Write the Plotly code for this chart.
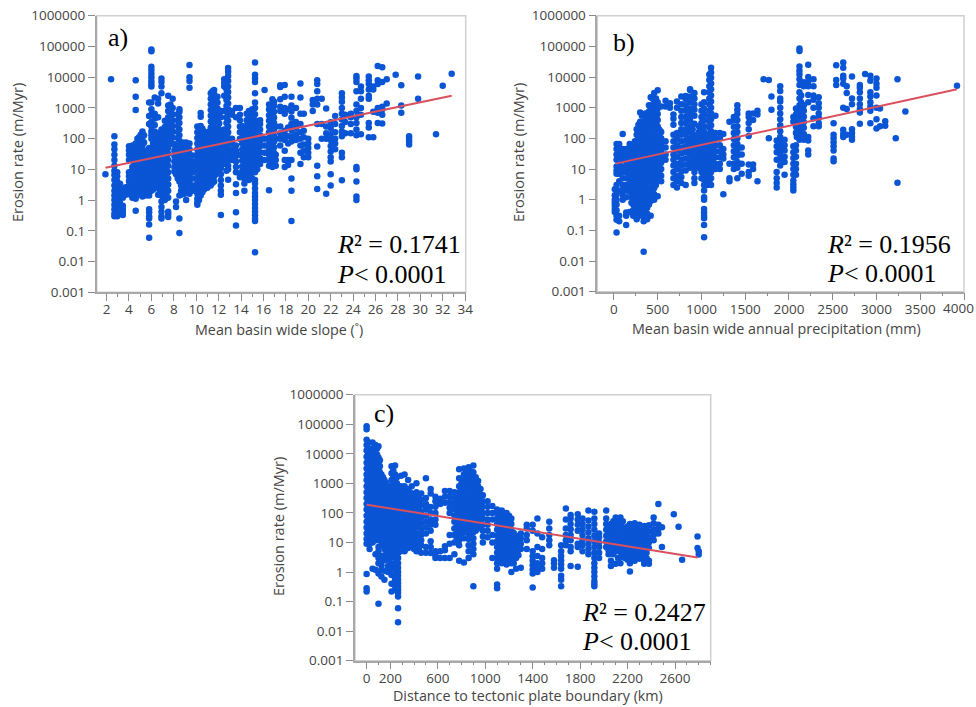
import plotly.graph_objects as go

# a) slope columns: x value, then the erosion rates read off that column
slope_x = [1.9, 2.4, 2.7, 2.95, 3.2, 3.45, 3.7, 4.0, 4.3, 4.6, 4.9, 5.2, 5.5, 5.8, 6.0, 6.3, 6.6, 6.9, 7.2, 7.5, 7.9, 8.2, 8.5, 8.8, 9.1, 9.4, 9.7, 10.1, 10.4, 10.7, 11.0, 11.3, 11.6, 11.9, 12.2, 12.5, 12.85, 13.2, 13.55, 13.9, 14.3, 14.7, 15.0, 15.25, 15.7, 16.1, 16.5, 16.8, 17.1, 17.5, 17.9, 18.2, 18.5, 18.9, 19.3, 19.6, 20.0, 20.4, 20.8, 21.2, 21.6, 22.0, 22.4, 23.0, 23.3, 23.8, 24.3, 24.7, 25.4, 25.8, 26.2, 26.6, 27.0, 27.8, 28.3, 29.0, 29.8, 31.4, 32.0, 32.8]
slope_y = [
    [7], [8500],
    [0.3, 0.36, 0.5, 0.7, 1, 1.4, 2, 3, 4.5, 6.5, 9, 13, 20, 30, 45, 65, 120],
    [0.3, 0.42, 0.6, 0.9, 1.3, 2, 3, 4, 6, 8],
    [0.8, 1.2, 1.7, 2.4, 3.4], [0.33, 0.42, 0.52, 0.65, 1.2, 1.6, 2.2], [1.5, 2, 2.6],
    [2, 3, 4.2, 6, 8, 20, 30, 42, 56],
    [1.2, 2, 3, 4.5, 6.3, 9, 12, 20, 30, 42, 60],
    [0.45, 1.1, 1.5, 2, 3, 5, 8, 15, 25, 35, 55, 70, 850, 2300, 8000],
    [1.5, 2.5, 4, 6, 9, 13, 20, 35, 50, 80, 110],
    [1.3, 2, 3, 5, 7, 10, 15, 30, 60, 100, 170],
    [1.4, 2.4, 3.5, 5.5, 8, 12, 22, 40],
    [0.06, 0.16, 0.25, 0.3, 0.4, 0.5, 1.4, 1.8, 2.4, 3, 4, 20, 30, 50, 300, 550, 1500],
    [2, 2.5, 3.2, 5, 8, 12, 18, 25, 35, 50, 100, 130, 170, 250, 350, 600, 900, 1500, 5000, 6000, 7500, 10000, 13000, 17000, 22000, 70000, 80000],
    [2.5, 4, 6, 9, 13, 20, 30, 45, 70, 110, 170, 280, 450, 650, 2200],
    [1.5, 2.5, 4, 6, 9, 14, 22, 35, 55, 90, 150, 500, 1400, 2000],
    [0.25, 0.3, 0.42, 0.6, 0.9, 1.4, 2.2, 3.5, 5.5, 8.5, 13, 20, 32, 50, 80, 130, 200, 3000, 5000, 7000, 9000],
    [1, 1.5, 2.4, 3.8, 6, 9.5, 15, 24, 38, 60, 95, 150, 240, 380],
    [0.28, 0.35, 0.42, 1.2, 2, 3.2, 5, 8, 13, 20, 32, 50, 80, 130, 200, 320, 500, 800, 1200, 2500],
    [70, 110, 170, 260, 400, 620, 1000, 2000],
    [0.6, 0.9, 7, 10, 15, 22, 33, 50],
    [0.085, 0.25, 1.4, 4, 6, 9, 14, 22, 35, 55, 85, 130, 200, 320, 500, 750, 900],
    [2.5, 3.8, 5.8, 9, 14, 22, 35, 55, 75],
    [1, 1.9, 2.9, 4.4, 6.7, 10, 16, 24, 36, 55, 75],
    [1.6, 2.4, 3.6, 5.5, 8.5, 13, 20, 30, 45, 70, 4500, 7500, 10000, 25000],
    [2, 3, 5, 8, 12, 18, 28],
    [0.7, 0.85, 1.1, 1.6, 2.4, 3.6, 5.5, 8.5, 13, 20, 30, 45, 70, 105, 160, 250],
    [1.4, 2.2, 3.4, 5.2, 8, 12, 19, 29, 45, 70, 110, 170, 260, 520, 680],
    [2.2, 3.4, 5.2, 8, 12, 19, 29, 45, 70, 110, 170],
    [2.5, 4, 6, 9.5, 15, 23, 36, 56, 85, 130],
    [3, 4.5, 7, 11, 17, 26, 40, 62, 95, 150, 230, 360, 560, 860, 1300, 2000, 3000],
    [4, 6, 9.5, 15, 23, 36, 56, 85, 130, 200, 310, 480, 750, 1150, 1800, 2800, 3800],
    [8, 12, 19, 29, 45, 70, 110, 170, 260, 400, 620, 950, 1500, 2300],
    [0.33, 1.5, 2, 3, 4.5, 7, 11, 17, 27, 42, 65, 100, 500, 800],
    [15, 23, 36, 56, 85, 130, 200, 800, 2500, 5000, 6500, 8500],
    [4.6, 10, 13, 20, 30, 45, 70, 105, 160, 250, 380, 600, 900, 1400, 2200, 3300, 5000, 7500, 11000, 15000, 20000],
    [20, 30, 45, 70, 100, 600, 800],
    [0.15, 0.4, 1.7, 3.3, 8, 12, 18, 27, 40, 60, 500, 1000],
    [5.5, 7, 30, 100, 160, 250, 400, 600, 1000],
    [2, 3.5, 5, 7, 10, 15, 23, 35, 55, 85, 130, 200],
    [4.5, 7, 10, 15, 23, 35, 55, 85, 130, 200, 320, 500, 800],
    [5, 8, 12, 18, 28, 42, 65, 100, 160, 250, 400, 620, 900],
    [0.02, 0.21, 0.25, 0.32, 0.42, 0.55, 0.75, 1, 1.3, 1.7, 2.4, 3.5, 4.5, 8, 12, 18, 28, 42, 65, 100, 160, 250, 400, 620, 1000, 1500, 3000, 7000, 9000, 12000, 30000],
    [15, 23, 36, 56, 85, 130, 200, 300, 400],
    [20, 35, 60, 100, 3800],
    [2.1, 13, 20, 30, 45, 70, 105, 160, 250, 380, 580, 880, 1300],
    [12, 18, 28, 42, 65, 100, 160, 250, 400, 620, 950, 1400, 1900],
    [13, 20, 30, 100, 250],
    [60, 100, 150, 250, 800, 1100, 1900, 4800, 5500],
    [12, 20, 40, 90, 130, 180, 650, 1000, 2300, 5600],
    [14, 20, 70, 120, 230, 900],
    [0.21, 2, 5, 20, 80, 120, 190, 300, 480, 760, 1200, 2300],
    [90, 140, 220, 350, 1000],
    [6200, 2200, 650, 300, 160, 100, 60, 35, 15],
    [25, 40, 65, 110, 180, 650],
    [25, 35, 50, 70, 100],
    [800, 1300, 1800],
    [2.3, 6, 13, 55, 300, 1300, 2000, 3500, 6000, 8000],
    [100, 300, 2000],
    [1.6, 100, 150, 250, 950],
    [3, 7, 18, 25, 38, 58, 90, 140, 220, 340],
    [45, 70, 100, 160, 300, 550],
    [4.4, 25, 35, 120, 170, 260, 420, 650, 1000, 1600, 2200, 3000],
    [150, 350, 600],
    [150, 300, 500, 650],
    [1, 1.3, 4, 10, 12, 130, 200, 320, 500, 800, 1300, 3500, 7000, 9000, 11000],
    [140, 600, 1000, 2000, 3500, 5000],
    [110, 230, 320, 2000, 2500, 4000, 6000, 8000, 10500],
    [110, 750, 4000, 5000],
    [320, 700, 1000, 6000, 8000, 23000],
    [310, 600, 900, 1100, 7000, 21000],
    [8500, 1400],
    [12000],
    [5500, 1200, 700],
    [65, 80, 100, 120],
    [2000, 10500],
    [140], [5300], [13000],
]
# points in the solid parts of panel a, between the columns above
slope_fill_x = [2.85, 4.15, 4.45, 4.75, 5.05, 5.35, 5.65, 6.15, 6.45, 6.75, 7.05, 7.35, 7.7, 8.05, 8.35, 8.65, 8.95, 9.25, 10.25, 10.55, 10.85, 11.15, 11.45, 11.75, 12.05, 12.35, 12.7, 14.1, 14.5, 14.85, 15.1, 15.45, 16.65, 16.95]
slope_fill_y = [
    [1.1, 1.6, 2.5, 3.6, 5.2],
    [1.5, 2.4, 3.6, 5, 7],
    [1.5, 2.4, 3.6, 5.2, 7.5, 11, 16, 25],
    [1.7, 2.5, 4, 6.5, 10, 18, 28, 42, 100],
    [1.9, 3.2, 5, 7.5, 11, 16, 26, 42, 65, 135],
    [1.6, 2.5, 4, 6, 8.5, 12.5, 18, 40, 75, 130],
    [1.8, 3, 4.5, 6.5, 10, 15, 30],
    [2.2, 3.2, 4.5, 6.5, 10, 15, 22, 30, 42, 70],
    [3.2, 5, 7.5, 11, 16, 25, 38, 57, 85],
    [1.8, 3, 4.8, 7.5, 11, 18, 28, 44, 70, 110],
    [1.2, 1.9, 3, 4.8, 7.5, 11, 18, 28, 44, 70, 110, 170],
    [1.5, 2.5, 4, 6.3, 10, 16, 25, 40, 63, 100, 160, 250],
    [85, 135, 210, 320, 500, 800, 1300],
    [8.5, 12, 18, 27, 40, 62],
    [5, 7.5, 11, 17, 27, 43, 68, 105, 165, 260, 400, 620],
    [1.5, 2, 3, 4.7, 7.2, 11, 17, 27, 44, 65],
    [1.6, 2.3, 3.5, 5.3, 8, 12, 19, 29, 44, 65],
    [1.7, 2, 3, 4.5, 7, 11, 16, 25, 37, 57],
    [1, 1.3, 1.9, 3, 4.5, 6.8, 10.5, 16, 25, 38, 58, 88, 130, 200],
    [1.8, 2.8, 4.3, 6.5, 10, 15, 24, 37, 57, 88, 140, 215],
    [2.8, 4.3, 6.5, 10, 15, 24, 37, 57, 88, 140],
    [3.2, 5, 7.5, 12, 19, 29, 45, 70, 105, 170],
    [3.6, 5.5, 8.5, 13.5, 21, 32, 50, 77, 120, 185, 285, 440, 680, 1050, 1600, 2500, 3500],
    [7, 10.5, 16, 25, 38, 60, 95, 145, 225, 350, 540, 840, 1300, 2000],
    [9, 14, 22, 34, 52, 82, 125, 200, 310, 620],
    [18, 28, 44, 68, 105, 165],
    [9, 16, 25, 36, 55, 85, 130, 200, 320, 480, 750, 1150, 1800, 2700, 4000],
    [6, 8.5, 12.5, 19, 29, 44, 68, 105, 165, 260],
    [5.5, 8.5, 12.5, 19, 29, 44, 68, 105, 165, 260, 400, 650],
    [6, 10, 15, 23, 35, 52, 80, 125, 200, 320, 500, 750],
    [10, 15, 23, 35, 52, 80, 125, 200, 320],
    [10, 18, 28, 45, 70, 110, 170, 260],
    [16, 25, 38, 57, 85, 130, 200, 320, 490, 750, 1150],
    [15, 23, 34, 52, 80, 125, 200, 320, 490, 750, 1150, 1600],
]
slope_fit_x = [1.9, 32.8]
slope_fit_y = [11.2, 2500]

# b) precipitation columns
precip_x = [10, 30, 60, 100, 140, 180, 220, 260, 300, 340, 380, 420, 460, 500, 540, 590, 640, 680, 720, 770, 820, 870, 920, 970, 1030, 1070, 1110, 1160, 1210, 1250, 1320, 1370, 1410, 1460, 1540, 1590, 1640, 1710, 1770, 1800, 1860, 1900, 1950, 2050, 2080, 2120, 2170, 2220, 2280, 2340, 2510, 2540, 2620, 2660, 2720, 2810, 2870, 2930, 3000, 3040, 3100, 3220, 3240, 3330, 3920]
precip_y = [
    [0.4, 0.5, 0.65, 0.8, 1, 1.4, 2.2],
    [0.085, 0.22, 0.3, 0.45, 0.7, 1, 1.5, 3, 7, 9, 12, 20, 30, 45, 65],
    [0.2, 0.3, 2, 4, 7, 10, 15, 25, 40, 65],
    [1, 1.4, 2, 3, 5, 8, 12, 20, 30, 45, 140],
    [0.15, 0.3, 0.38, 1.2, 2, 3, 5, 8, 12, 18, 28, 45],
    [0.4, 1.8, 2.8, 4.5, 7, 11, 17, 26, 40, 65],
    [0.3, 0.45, 0.7, 1, 1.5, 2.4, 3.8, 6, 9.5, 15, 24, 38, 60],
    [0.23, 0.35, 0.55, 0.85, 1.3, 2, 3.2, 5, 8, 13, 20, 32, 50, 80, 130, 200],
    [0.4, 0.65, 1, 1.6, 2.5, 4, 6.3, 10, 16, 25, 40, 63, 100, 160, 250, 350, 700],
    [0.02, 0.2, 0.3, 0.5, 0.8, 1.3, 2, 3.2, 5, 8, 13, 20, 32, 50, 80, 130, 200],
    [0.23, 0.35, 0.55, 0.85, 1.3, 2, 3.2, 5, 8, 13, 20, 32, 50, 80, 130, 200, 320, 500],
    [0.3, 0.9, 1.5, 2.4, 3.8, 6, 9.5, 15, 24, 38, 60, 95, 150, 240, 380, 600, 950, 2200],
    [1, 1.5, 2.4, 3.8, 6, 9.5, 15, 24, 38, 60, 95, 150, 240, 380, 600, 950, 1500, 3000],
    [1.3, 4.5, 7, 11, 17, 27, 42, 65, 100, 160, 250, 400, 620, 950, 1500, 3700],
    [4, 6, 10, 16, 25, 40, 65, 100, 160, 1100],
    [20, 30, 50, 80, 1100, 1700],
    [1000, 1400],
    [3, 5, 8, 13, 20, 30, 50, 80, 130, 280, 440, 600],
    [2.5, 4, 6, 10, 15, 25, 40, 60, 95, 150, 1000, 1600],
    [3.5, 5.5, 8.5, 13, 20, 32, 50, 80, 130, 200, 320, 500, 800, 1300, 2300],
    [3, 9, 14, 22, 35, 55, 85, 130, 200, 320, 500, 800, 1200, 1900, 2400],
    [11, 17, 27, 42, 65, 100, 160, 250, 400, 620, 950, 1500, 2300, 3800, 4000],
    [3.5, 5, 8, 12, 19, 30, 46, 72, 110, 300, 550, 850, 1300, 2000, 3000],
    [11, 17, 27, 42, 65, 100, 160, 250],
    [0.06, 0.15, 0.25, 0.3, 0.38, 0.5, 1, 1.2, 2, 3, 4.5, 7, 11, 17, 27, 42, 65, 100, 160, 250, 400, 620, 950, 1500, 3200],
    [3, 5, 8, 12, 19, 30, 46, 72, 110],
    [3, 5, 8, 12, 19, 30, 46, 72, 110, 170, 270, 420, 650, 1000, 1600, 2500, 4000, 6200, 9500, 14000, 20000],
    [10, 15, 24, 38, 60, 95, 150, 550],
    [10, 15, 24, 38, 60, 100, 150],
    [1.5, 22, 30, 45, 140],
    [4, 5, 15, 350],
    [10, 15, 24, 38, 60, 95, 150, 240, 380, 500],
    [5, 11, 17, 27, 42, 65, 100, 160, 250, 400, 620, 850, 1200],
    [7, 15, 30, 50],
    [6, 8, 14, 120, 200, 320, 500, 650],
    [10, 14, 400, 650],
    [4, 600, 800],
    [8500],
    [8000, 100],
    [2300, 850],
    [2.5, 3.5, 5, 8, 20, 35, 55, 85],
    [13, 20, 30, 45, 70, 110, 170, 270, 420, 650, 1000, 1600, 2000, 3500, 5000],
    [6.5, 17, 25, 40, 60, 90],
    [2, 2.5, 3.2, 4.2, 6.5, 10, 15, 23, 35, 55, 350, 500],
    [6.5, 10, 15, 25, 40, 60, 150, 240, 380, 600, 950],
    [90, 140, 220, 340, 520, 800, 1200, 2000, 3200, 5500, 8500, 12000, 16000, 22000, 70000, 85000],
    [90, 140, 220, 340, 520, 800, 1200, 5000, 6800],
    [30, 40, 85, 110, 1500, 2600, 5000, 7000, 10000, 25000],
    [250, 450, 1000, 1800, 2500, 5000, 8500],
    [250, 320, 480, 650, 1000, 1400, 2200],
    [18, 22, 40, 55, 75, 100, 130, 310],
    [5500, 8000, 24000],
    [110, 140, 190, 1000, 6000, 9000, 11000, 20000, 30000],
    [130, 900, 3000, 5000],
    [90, 110, 150, 200, 1300, 2000, 10500],
    [300, 700, 900, 1300, 2000, 3200, 4500, 5500],
    [12500],
    [310, 800, 1100, 1500, 2300, 3200, 11000, 7500],
    [210, 420, 1000, 2500, 4500, 6000, 9000],
    [250, 950],
    [260, 360],
    [100],
    [3.6, 8500],
    [750],
    [5200],
]
precip_fill_x = [200, 240, 280, 320, 360, 400, 440, 480, 520, 1000, 1050, 1090, 1130, 900, 950, 2140, 2090]
precip_fill_y = [
    [0.8, 1.2, 2.2, 3.6, 5.8, 9, 14, 22, 34, 52],
    [0.55, 0.85, 1.3, 2, 3.2, 5, 8, 13, 20, 32, 50, 80],
    [0.3, 0.45, 0.7, 1.1, 1.8, 2.8, 4.5, 7, 11, 18, 28, 45, 70, 110, 170, 280],
    [0.3, 0.5, 0.8, 1.3, 2, 3.2, 5, 8, 13, 20, 32, 50, 80, 130, 200, 320, 550],
    [0.3, 0.42, 0.65, 1, 1.6, 2.5, 4, 6.5, 10, 16, 25, 40, 65, 100, 160, 250, 400, 650],
    [0.7, 1.2, 1.9, 3, 4.8, 7.5, 12, 19, 30, 48, 75, 120, 190, 300, 480, 750, 1200],
    [1.2, 1.9, 3, 4.8, 7.5, 12, 19, 30, 48, 75, 120, 190, 300, 480, 750, 1200, 2000],
    [3, 5.5, 8.5, 13, 21, 33, 52, 82, 130, 200, 320, 500, 800, 1200, 2000],
    [5, 8, 12, 19, 30, 48, 75, 120, 190],
    [5, 8, 13, 21, 33, 52, 82, 130, 200, 320, 500, 800, 1300],
    [4, 6.5, 10, 16, 25, 38, 58, 90, 130],
    [4, 6.5, 10, 16, 25, 38, 58, 90, 140, 220, 340, 520, 800, 1300, 2000, 3200, 5000, 8000, 12000],
    [12, 19, 30, 48, 75, 120],
    [14, 21, 33, 52, 82, 130, 200],
    [14, 21, 33, 52, 82, 130],
    [110, 170, 270, 420, 650, 1000, 1500, 2500],
    [110, 170, 270, 420, 650],
]
precip_fit_x = [20, 3920]
precip_fit_y = [15, 4000]

# c) distance columns
dist_x = [0, 25, 50, 75, 100, 125, 150, 180, 210, 240, 265, 290, 320, 350, 380, 420, 460, 500, 540, 580, 620, 660, 700, 740, 780, 820, 860, 900, 940, 980, 1020, 1060, 1100, 1140, 1180, 1220, 1260, 1300, 1350, 1400, 1440, 1480, 1540, 1580, 1640, 1680, 1720, 1780, 1820, 1870, 1920, 1960, 2020, 2060, 2100, 2140, 2180, 2220, 2260, 2300, 2340, 2380, 2420, 2460, 2490, 2590, 2630, 2660, 2790, 2800]
dist_y = [
    [0.22, 0.28, 0.85, 9, 13, 20, 32, 50, 80, 130, 200, 320, 500, 800, 1300, 2000, 3200, 5000, 8000, 13000, 20000, 30000, 68000, 85000],
    [6, 9, 14, 22, 35, 55, 85, 130, 200, 320, 500, 800, 1300, 2000, 3200, 5000, 8000, 13000],
    [1.3, 10, 16, 25, 40, 63, 100, 160, 250, 400, 630, 1000, 1600, 2500, 4000, 6300, 10000, 24000],
    [1.2, 4, 12, 19, 30, 47, 75, 120, 190, 300, 470, 750, 1200, 1900, 3000, 4700, 7500, 12000, 20000],
    [0.085, 0.9, 2, 3, 5, 7, 12, 19, 30, 47, 75, 120, 190, 300, 470, 750, 1200, 1900, 3000, 4700, 7500, 18000],
    [0.7, 1.2, 1.7, 2.4, 3.4, 8, 13, 20, 32, 50, 80, 130, 200, 320, 500, 800, 1300, 2000],
    [0.55, 1.1, 2.5, 3.7, 6, 9, 14, 22, 35, 55, 85, 130, 200, 320, 500, 800, 1300],
    [1, 1.6, 2.6, 4, 6, 9, 14, 22, 35, 55, 85, 130, 200, 320, 500, 800],
    [0.22, 0.4, 0.8, 1.3, 2, 3.2, 5, 8, 13, 20, 32, 50, 80, 130, 200, 320, 500, 800, 1300, 2200, 3800],
    [0.25, 0.35, 0.55, 0.85, 1.3, 2, 3.2, 5, 8, 13, 20, 32, 50, 80, 130, 200, 320, 500, 800, 1300, 2000, 4000],
    [0.02, 0.06, 0.15, 0.2, 0.25, 0.32, 0.42, 0.55, 0.75, 1, 1.4, 2, 3, 4.5, 8, 13, 20, 32, 50, 80, 130, 200],
    [5, 8, 13, 20, 32, 50, 80, 130, 200, 320, 500, 800, 1800],
    [5, 8, 13, 20, 32, 50, 80, 130, 200, 320, 500, 800, 2000],
    [6.5, 10, 16, 25, 40, 63, 100, 160, 250, 400, 630, 1300],
    [7, 11, 18, 28, 45, 70, 110, 180, 280, 450, 800],
    [5, 8, 13, 20, 32, 50, 80, 130, 200, 320, 500, 1000],
    [4.5, 8, 12, 18, 28, 45, 70, 110, 180, 280, 450],
    [4.5, 7, 20, 32, 50, 80, 130, 200, 320, 1500],
    [4.4, 7, 11, 25, 40, 60, 100, 160, 450, 650],
    [3, 3.8, 5, 40, 60, 100, 160, 250, 350],
    [3, 5, 200, 300],
    [3, 5.5, 7.5, 220, 350, 550],
    [3, 9, 18, 100, 150, 230, 350, 550],
    [4, 10, 18, 30, 50, 80, 130, 200, 320, 500],
    [2.4, 8, 12, 20, 32, 50, 80, 130, 200, 320, 500, 800, 1500, 3000],
    [2.1, 14, 22, 35, 55, 85, 130, 200, 320, 500, 800, 1300, 2000, 3200],
    [3, 5, 8, 13, 20, 32, 50, 80, 130, 200, 320, 500, 800, 1300, 2000, 3500],
    [0.33, 4, 6, 9, 14, 22, 35, 55, 85, 130, 200, 320, 500, 800, 1300, 2400, 4000],
    [30, 50, 80, 130, 200, 320, 500, 800, 1200],
    [10, 16, 25, 40, 63, 100, 160, 250, 400],
    [15, 25, 40, 60, 100, 160, 250],
    [3, 10, 18, 60, 100, 170],
    [0.28, 0.38, 1.3, 2, 3, 4.5, 7, 11, 17, 27, 42, 65, 100, 130],
    [2, 3, 4.5, 7, 11, 17, 27, 42, 65, 120],
    [1.8, 3, 4.5, 7, 11, 17, 27, 42, 65, 100],
    [1, 2, 3, 4.5, 7, 11, 17, 27, 42, 65],
    [1.3, 3, 4.5, 7, 11, 17],
    [1.4, 6, 9, 14, 20],
    [6, 12, 18, 30, 40],
    [0.3, 0.9, 1.2, 1.7, 2.4, 3.4, 5, 25, 40],
    [1, 1.3, 2, 3.5, 7, 20, 65],
    [1.3, 2, 3, 6, 15],
    [8, 12, 18, 30, 50],
    [1.4, 2, 2.5],
    [0.33, 0.55, 0.75, 1.3, 1.8, 2.5, 3.5, 5, 8],
    [8, 12, 18, 30, 60, 140],
    [1.6, 5, 7, 12, 18, 28, 42, 65, 85],
    [1.5, 7, 9, 25, 40, 60, 90],
    [5, 8, 12, 18, 28, 42, 65],
    [4, 6, 9, 14, 22, 35, 55, 120],
    [0.33, 0.4, 0.5, 0.7, 1, 1.4, 2, 3, 4.5, 7, 11, 17, 27, 42, 65, 110],
    [3, 4.5, 7, 10, 15, 20],
    [7, 11, 17, 27, 42, 65, 120],
    [1.6, 2.4, 7, 11, 17, 27, 42],
    [1.9, 5, 8, 12, 18, 28, 42, 70],
    [2, 3.2, 5, 8, 12, 18, 28, 42, 70],
    [3, 5, 8, 12, 18, 28],
    [1.05, 2, 3.2, 5, 8, 12, 18, 28, 42],
    [2.4, 3.6, 5.5, 8.5, 13, 20, 30, 45],
    [2.8, 4.5, 7, 11, 17, 26, 40],
    [1.9, 2.4, 4, 6, 9.5, 15, 23, 36],
    [1.9, 2.4, 6.5, 10, 15, 24, 38],
    [12, 18, 28, 45, 70],
    [20, 30, 40, 200],
    [7, 33],
    [90], [34], [2.6], [6.5, 16],
    [3.9, 5],
]
dist_fill_x = [12, 38, 62, 88, 112, 138, 165, 195, 225, 255, 305, 335, 365, 400, 440, 760, 800, 840, 880, 920, 960, 1120, 1160, 1200, 1240, 1280, 2040, 2080, 2120, 2160, 2200, 2240, 2280, 2320, 2360]
dist_fill_y = [
    [11, 16, 25, 40, 63, 100, 160, 250, 400, 630, 1000, 1600, 2500, 4000, 6300, 10000, 16000, 25000],
    [11, 18, 28, 45, 70, 110, 170, 270, 430, 680, 1100, 1700, 2700, 4300, 6800, 10000],
    [12, 20, 32, 50, 80, 130, 200, 320, 500, 800, 1300, 2000, 3200, 5000, 8000, 16000],
    [15, 24, 38, 60, 95, 150, 240, 380, 600, 950, 1500, 2400, 3800, 6000, 9500, 15000],
    [15, 24, 38, 60, 95, 150, 240, 380, 600, 950, 1500, 2400, 3800, 6000],
    [10, 16, 25, 40, 63, 100, 160, 250, 400, 630, 1000, 1600],
    [7, 11, 18, 28, 45, 70, 110, 170, 270, 430, 680, 1050],
    [5, 7, 11, 18, 28, 45, 70, 110, 170, 270, 430, 650],
    [4, 6.5, 10, 16, 25, 40, 63, 100, 160, 250, 400, 650, 1000, 1600, 2800],
    [2.5, 4, 6.5, 10, 16, 25, 40, 63, 100, 160, 250, 400, 650, 1000, 1600],
    [6.5, 10, 16, 25, 40, 63, 100, 160, 250, 400, 650],
    [6.5, 10, 16, 25, 40, 63, 100, 160, 250, 400, 650],
    [8, 13, 20, 32, 50, 80, 130, 200, 320, 500],
    [6, 9, 14, 22, 35, 55, 85, 130, 200, 320],
    [6, 9, 14, 35, 55, 85, 130, 200, 320],
    [14, 22, 35, 55, 85, 130, 200, 320],
    [18, 28, 40, 65, 105, 165, 260, 410, 650, 1000],
    [25, 40, 65, 105, 165, 260, 410, 650, 1000, 1600, 2500],
    [15, 25, 40, 65, 105, 165, 260, 410, 650, 1000, 1600, 2500],
    [25, 40, 65, 105, 165, 260, 410, 650, 1000, 1600],
    [40, 65, 105, 165, 260, 410, 650],
    [2.5, 3.7, 5.6, 8.7, 14, 21, 33, 52, 80],
    [2.5, 3.7, 5.6, 8.7, 14, 21, 33, 52, 80],
    [2.2, 3.7, 5.6, 8.7, 14, 21, 33, 52, 80],
    [2, 3.7, 5.6, 8.7, 14, 21],
    [3.7, 5.6, 8.7, 14],
    [4, 5.5, 8.7, 13, 21, 33],
    [4, 5.5, 8.7, 14, 21, 33, 52],
    [3, 5.5, 8.7, 14, 21, 33, 52],
    [3.2, 5.5, 8.7, 14, 21, 33, 52],
    [2.6, 4, 6.5, 10, 15, 23, 35],
    [2.6, 4, 6.5, 10, 15, 23, 35],
    [3.5, 5.5, 8.7, 14, 21, 33],
    [3.5, 5.5, 8.7, 14, 21, 33],
    [3, 4.5, 6.5, 10, 15, 23, 35],
]
dist_fit_x = [0, 2790]
dist_fit_y = [190, 3.1]

# pixel boxes of the three plots: left, right, top, bottom
boxes = [(96.7, 465.7, 15.7, 292.3), (597.3, 964, 15.7, 291.7), (355, 710.7, 394.7, 660.7)]
x_ranges = [[1.12, 34.05], [-190, 4000], [-98, 2901]]
x_titles = ['Mean basin wide slope (˚)', 'Mean basin wide annual precipitation (mm)', 'Distance to tectonic plate boundary (km)']
x_title_pos = [(279, 329), (776, 328), (528, 695)]
y_title_pos = [(17, 153), (518, 153), (278, 527)]
letters = ['a)', 'b)', 'c)']
letter_pos = [(106, 38), (611, 43), (372, 413)]
r2_texts = ['0.1741', '0.1956', '0.2427']
stat_pos = [(335, 245, 274), (825, 245, 273), (580, 612, 641)]
y_ticks = [0.001, 0.01, 0.1, 1, 10, 100, 1000, 10000, 100000, 1000000]
y_labels = ['0.001', '0.01', '0.1', '1', '10', '100', '1000', '10000', '100000', '1000000']
precip_ticks = [0, 500, 1000, 1500, 2000, 2500, 3000, 3500, 4000]
precip_labels = ['0', '500', '1000', '1500', '2000', '2500', '3000', '3500', '']

blue = '#0a55d5'
red = '#d9505f'
grey = '#444444'
axis_grey = '#a8a8a8'
W = 976
H = 707


def px_x(v):
    return v / W


def px_y(v):
    return 1 - v / H


def note(text, px, py, size, family, anchor='left', angle=0, color='black'):
    fig.add_annotation(text=text, xref='paper', yref='paper', x=px_x(px), y=px_y(py), showarrow=False, xanchor=anchor, yanchor='middle',
                       textangle=angle, font=dict(family=family, size=size, color=color))


fig = go.Figure()
panels = [(slope_x, slope_y, slope_fill_x, slope_fill_y, slope_fit_x, slope_fit_y),
          (precip_x, precip_y, precip_fill_x, precip_fill_y, precip_fit_x, precip_fit_y),
          (dist_x, dist_y, dist_fill_x, dist_fill_y, dist_fit_x, dist_fit_y)]
for i, (cols, rates, fill_cols, fill_rates, fit_x, fit_y) in enumerate(panels):
    xs = []
    ys = []
    for c, r in zip(cols + fill_cols, rates + fill_rates):
        xs += [c] * len(r)
        ys += r
    ax = '' if i == 0 else str(i + 1)
    fig.add_trace(go.Scatter(x=xs, y=ys, mode='markers', marker=dict(color=blue, size=6.5), xaxis='x' + ax, yaxis='y' + ax, showlegend=False))
    fig.add_trace(go.Scatter(x=fit_x, y=fit_y, mode='lines', line=dict(color=red, width=2), xaxis='x' + ax, yaxis='y' + ax, showlegend=False))

    l, r_, t, b = boxes[i]
    # lighter frame behind the two darker axis lines
    fig.add_shape(type='rect', xref='paper', yref='paper', x0=px_x(l), x1=px_x(r_), y0=px_y(b), y1=px_y(t), line=dict(color='#cfcfcf', width=1.5), layer='below')
    x_axis = dict(domain=[px_x(l), px_x(r_)], range=x_ranges[i], anchor='y' + ax, showgrid=False, zeroline=False, automargin=False,
                  showline=True, linecolor=axis_grey, linewidth=1.5, ticks='outside', ticklen=7, tickcolor='#8a8a8a',
                  ticklabeloverflow='allow', ticklabelstandoff=-3, tickfont=dict(family='Open Sans', size=13.5, color=grey))
    y_axis = dict(domain=[px_y(b), px_y(t)], type='log', range=[-3, 6], anchor='x' + ax, showgrid=False, zeroline=False, automargin=False,
                  showline=True, linecolor=axis_grey, linewidth=1.5, ticks='outside', ticklen=7, tickcolor='#8a8a8a',
                  ticklabeloverflow='allow', tickvals=y_ticks, ticktext=y_labels, tickfont=dict(family='Open Sans', size=13.5, color=grey))
    if i == 0:
        x_axis.update(tick0=2, dtick=2, minor=dict(dtick=1, ticks='outside', ticklen=3, tickcolor='#8a8a8a'))
    elif i == 1:
        x_axis.update(tickvals=precip_ticks, ticktext=precip_labels, minor=dict(tick0=0, dtick=250, ticks='outside', ticklen=3, tickcolor='#8a8a8a'))
    else:
        x_axis.update(tickvals=[0, 200, 600, 1000, 1400, 1800, 2200, 2600], ticktext=['0', '200', '600', '1000', '1400', '1800', '2200', '2600'],
                      minor=dict(tick0=0, dtick=100, ticks='outside', ticklen=3, tickcolor='#8a8a8a'))
    fig.update_layout({'xaxis' + ax: x_axis, 'yaxis' + ax: y_axis})

    # axis titles, panel letter and the fit statistics
    note(x_titles[i], x_title_pos[i][0], x_title_pos[i][1], 14.3, 'Open Sans', anchor='center', color=grey)
    note('Erosion rate (m/Myr)', y_title_pos[i][0], y_title_pos[i][1], 14.5, 'Open Sans', anchor='center', angle=-90, color=grey)
    note(letters[i], letter_pos[i][0], letter_pos[i][1], 26, 'Liberation Serif')
    note('<i>R</i>² = ' + r2_texts[i], stat_pos[i][0], stat_pos[i][1], 26, 'Liberation Serif')
    note('<i>P</i>&lt; 0.0001', stat_pos[i][0], stat_pos[i][2], 26, 'Liberation Serif')

# the last label of panel b sits left of its tick so that it stays on the page
note('4000', 958, 308, 13.5, 'Open Sans', anchor='center', color=grey)

fig.update_layout(width=W, height=H, margin=dict(l=0, r=0, t=0, b=0), paper_bgcolor='white', plot_bgcolor='white')
fig.write_html("out.html", config={'displayModeBar': False}, post_script="document.body.style.margin = '0'; document.body.style.overflow = 'hidden';")
